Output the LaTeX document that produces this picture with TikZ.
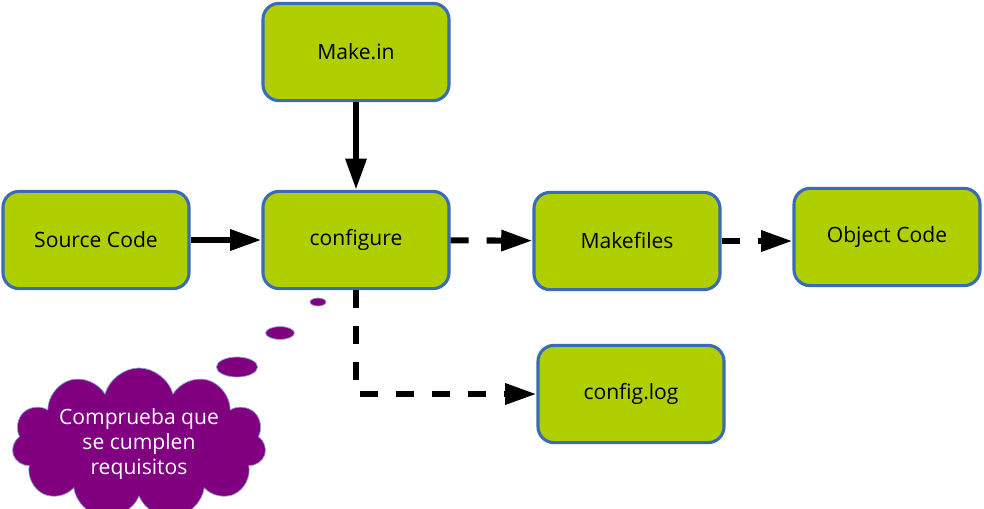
\documentclass[tikz,border=0pt]{standalone}
\usepackage{fontspec}
\setmainfont{Open Sans}
\usetikzlibrary{arrows.meta,shapes.symbols,shapes.geometric}
\definecolor{boxgreen}{RGB}{175,207,0}
\definecolor{boxblue}{RGB}{58,107,181}
\definecolor{thought}{RGB}{128,0,128}
\begin{document}
\begin{tikzpicture}[x=0.025cm, y=-0.025cm,
    main/.style = {draw=boxblue, line width=2.2pt, fill=boxgreen, rounded corners=0.4cm,
        minimum width=4.65cm, minimum height=2.43cm, font=\fontsize{15}{18}\selectfont},
    link/.style = {line width=4.3pt, -{Triangle[length=0.78cm,width=0.5cm]}},
    dashlink/.style = {link, dash pattern=on 0.45cm off 0.45cm},
    bubble/.style = {ellipse, draw=boxblue!60, line width=0.5pt, fill=thought, inner sep=0pt}]

    \useasboundingbox (0,0) rectangle (984,508);

    \node[main] (makein) at (356,52) {Make.in};
    \node[main] (configure) at (356,240) {configure};
    \node[main] (source) at (96,240) {Source Code};
    \node[main] (makefiles) at (627,241) {Makefiles};
    \node[main] (object) at (887,237) {Object Code};
    \node[main] (configlog) at (631,394) {config.log};

    % thought cloud
    \node[bubble, minimum width=0.4cm, minimum height=0.2cm] (b3) at (318,302) {};
    \node[bubble, minimum width=0.72cm, minimum height=0.32cm] (b2) at (280,333) {};
    \node[bubble, minimum width=1.03cm, minimum height=0.5cm] (b1) at (237,367) {};
    \node[cloud, cloud puffs=11, aspect=2.1, draw=boxblue!60, line width=0.5pt, fill=thought,
        text=white, align=center, inner sep=0pt, minimum width=6.35cm, minimum height=3.05cm,
        font=\fontsize{15}{18}\selectfont] (note) at (139,444) {Comprueba que\\se cumplen\\requisitos};

    \draw[link] (makein) -- (configure);
    \draw[link] (source) -- (configure);
    \draw[dashlink] (configure) -- (makefiles);
    \draw[dashlink] (makefiles.east) -- (object.west |- makefiles.east);
    \draw[dashlink] (configure.south) |- (configlog.west);
\end{tikzpicture}
\end{document}
